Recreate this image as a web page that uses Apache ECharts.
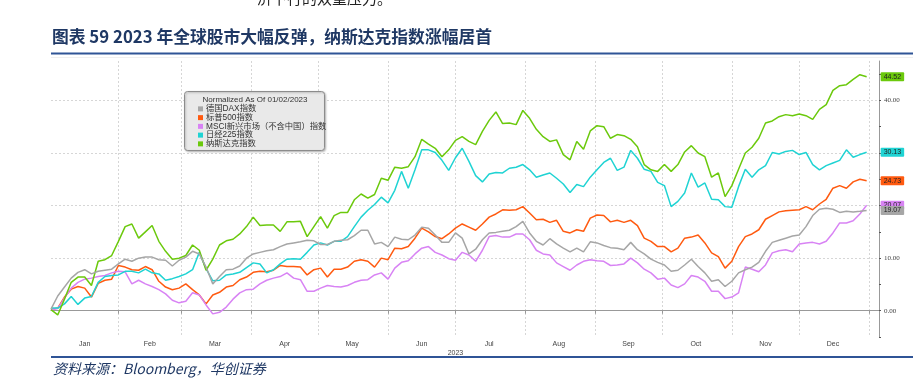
<!DOCTYPE html>
<html><head><meta charset="utf-8">
<script src="https://cdn.jsdelivr.net/npm/echarts@6/dist/echarts.min.js"></script>
<style>html,body{margin:0;padding:0;background:#fff}#c{width:913px;height:384px}</style>
</head><body><div id="c"></div>
<script>
// days since 2023-01-01
const days = [1,4,7,10,13,16,19,22,25,28,
31,34,37,40,43,46,49,52,55,58,
61,64,67,70,73,76,79,82,85,88,
91,94,97,100,103,106,109,112,115,118,
121,124,127,130,133,136,139,142,145,148,
151,154,157,160,163,166,169,172,175,178,
181,184,187,190,193,196,199,202,205,208,
211,214,217,220,223,226,229,232,235,238,
241,244,247,250,253,256,259,262,265,268,
271,274,277,280,283,286,289,292,295,298,
301,304,307,310,313,316,319,322,325,328,
331,334,337,340,343,346,349,352,355,358,
361,364];
const dax = [0.3,2.8,4.5,6.2,7.3,7.8,7.0,7.5,7.7,7.9,
8.9,9.8,9.4,10.0,10.2,10.2,9.7,9.6,8.5,9.6,
10.2,11.3,10.8,8.3,5.1,6.5,7.8,7.9,8.5,10.0,
10.8,11.1,11.4,11.6,12.2,12.7,12.9,13.1,13.4,13.3,
12.6,12.6,13.2,13.4,13.5,14.3,15.3,15.3,12.7,13.0,
12.2,14.0,13.6,13.5,14.4,15.9,15.7,14.4,13.0,13.0,
14.8,13.8,10.8,11.7,13.5,14.8,14.9,15.1,15.3,16.0,
17.0,14.8,13.2,12.5,13.7,12.7,11.9,11.2,11.9,11.2,
13.1,12.9,12.4,12.0,11.9,11.6,13.0,11.6,10.8,9.8,
9.2,8.7,7.5,7.7,8.7,9.8,8.4,7.2,5.6,5.9,
4.6,5.6,7.2,7.8,8.3,9.2,11.3,13.0,13.4,13.8,
14.2,14.4,16.0,18.1,19.3,19.5,19.3,18.7,18.9,18.8,
18.9,19.07];
const spx = [0.2,0.5,2.6,4.1,4.6,4.3,2.6,5.2,5.8,6.0,
8.6,8.3,7.8,7.7,8.4,7.8,5.6,4.5,4.0,4.3,
5.1,4.0,3.0,1.3,3.0,3.5,4.5,4.8,5.9,6.4,
7.3,7.5,7.4,7.7,8.6,8.4,8.4,8.3,6.8,7.8,
8.1,6.4,7.9,7.9,8.3,9.4,9.7,9.4,8.3,10.0,
9.7,11.9,11.8,12.2,13.8,15.7,15.0,14.1,13.7,14.6,
15.7,16.5,15.9,15.3,16.5,17.8,18.4,19.2,19.1,19.2,
19.8,18.6,17.3,17.4,16.8,17.2,15.1,14.8,15.4,15.1,
17.6,18.2,18.1,16.9,17.2,16.8,17.2,16.2,13.8,13.2,
12.2,12.2,11.2,11.9,13.8,14.0,14.4,12.9,11.0,10.3,
8.1,9.4,12.2,14.1,14.6,15.4,17.4,18.1,18.8,19.0,
19.1,19.2,19.8,19.2,20.3,21.2,23.3,23.8,23.3,24.5,
25.0,24.73];
const msci = [0.2,0.4,2.4,4.3,5.4,6.0,6.2,6.5,6.7,7.2,
7.5,7.4,5.1,5.8,5.1,4.6,4.0,3.2,2.0,1.5,
1.8,3.4,3.0,1.1,-0.6,-0.3,0.7,2.2,3.4,4.0,
4.1,5.1,5.8,6.2,6.5,7.2,6.2,5.9,3.7,3.7,
4.3,4.8,4.6,4.5,4.8,5.4,5.8,5.9,6.8,7.2,
6.0,8.1,9.2,9.5,10.8,11.9,12.2,11.1,10.6,9.9,
9.6,11.1,10.6,9.4,11.5,14.1,14.3,14.0,14.0,14.6,
14.6,13.5,11.5,10.8,10.6,9.1,8.4,7.7,8.7,9.4,
9.7,9.5,9.4,8.6,8.7,8.9,10.0,9.1,7.9,7.2,
6.0,6.2,4.9,4.4,5.1,6.7,6.4,5.6,3.7,3.7,
2.3,2.6,3.4,8.3,7.9,7.4,8.7,11.0,11.4,11.6,
11.2,12.7,12.9,13.0,12.7,13.2,14.8,16.7,16.7,17.1,
18.4,20.07];
const nikkei = [0.5,0.5,1.3,2.7,1.2,2.4,2.7,5.4,6.5,6.7,
6.8,7.5,7.5,7.2,7.9,7.2,7.0,5.8,6.1,6.5,
7.0,7.8,11.1,8.0,5.7,5.8,6.8,7.0,7.3,8.2,
9.1,8.9,7.2,7.8,8.9,9.8,9.9,9.8,11.1,12.5,
12.9,12.5,13.2,13.2,14.1,16.0,17.8,19.1,20.2,21.6,
20.5,22.9,26.5,23.3,26.8,30.6,30.6,30.1,28.6,26.7,
29.1,30.9,28.4,25.7,24.5,26.0,26.3,26.2,27.1,27.3,
27.8,26.8,25.4,25.8,26.2,25.2,24.1,22.5,24.0,23.6,
25.4,26.8,28.2,29.0,26.7,27.3,30.5,29.0,26.9,26.5,
24.4,23.8,19.8,20.8,22.4,26.2,23.5,24.3,21.2,21.1,
19.8,19.7,23.6,26.9,25.4,26.8,27.6,30.1,29.8,30.3,
30.5,29.7,30.1,27.8,26.8,27.6,28.1,28.6,30.6,29.2,
29.7,30.13];
const nasdaq = [0.2,-0.8,2.2,5.4,6.4,6.4,4.8,9.4,9.7,10.5,
13.2,16.0,16.5,13.8,15.0,16.2,13.2,11.3,9.8,10.0,
10.5,12.5,11.5,7.7,9.8,12.5,13.3,13.6,14.6,16.0,
17.8,16.2,16.3,16.3,15.1,16.9,16.9,17.0,14.1,16.0,
17.9,15.7,18.1,18.7,18.7,21.1,22.2,21.4,22.1,25.2,
24.8,27.3,27.1,27.4,29.3,32.6,31.7,30.9,29.3,30.6,
32.4,33.1,32.2,31.6,34.1,36.2,37.8,35.6,35.7,35.4,
38.1,36.6,34.5,33.1,32.2,32.5,29.7,28.7,32.2,30.7,
34.2,35.2,35.0,32.8,33.5,33.3,32.6,31.2,27.8,26.8,
26.5,27.8,26.5,27.8,30.2,31.4,30.0,29.3,25.4,26.2,
21.7,23.8,26.9,30.0,31.1,32.8,35.7,36.1,36.9,37.3,
37.1,37.4,37.1,36.4,38.3,39.2,41.9,42.8,43.0,44.0,
44.9,44.52];

const seriesNames = ['德国DAX指数','标普500指数','MSCI新兴市场（不含中国）指数','日经225指数','纳斯达克指数'];
const seriesValues = [dax, spx, msci, nikkei, nasdaq];
const seriesColors = ['#a6a6a6','#ff5a10','#d883f4','#1fd3d3','#6bc90c'];
const monthLabels = ['Jan','Feb','Mar','Apr','May','Jun','Jul','Aug','Sep','Oct','Nov','Dec'];
const monthLabelDays = [16,45,74,105,135,166,196,227,258,288,319,349];
const monthStartDays = [31,59,90,120,151,181,212,243,273,304,334,365];
const yearLabel = '2023';
const yearLabelDay = 181;
const yTickValues = [-5,0,5,10,15,20,25,30,35,40,45];
const yLabelValues = [0,10,20,30,40];

const chart = echarts.init(document.getElementById('c'));
const FONT = '"Liberation Sans", "Noto Sans CJK SC", sans-serif';

const series = seriesNames.map((name, i) => ({
  name, type: 'line', showSymbol: false, symbol: 'none',
  data: days.map((d, j) => [d, seriesValues[i][j]]),
  color: seriesColors[i],
  lineStyle: { width: 1.5, color: seriesColors[i] },
  z: i === 0 ? 7 : 2 + i,
  endLabel: {
    show: true, distance: 14,
    formatter: p => p.value[1].toFixed(2),
    backgroundColor: seriesColors[i], color: '#222',
    fontSize: 7, fontFamily: FONT, padding: [1, 3, 1, 3], borderRadius: 1
  }
}));

chart.setOption({
  animation: false,
  backgroundColor: '#fff',
  grid: { left: 51, right: 34, top: 61, bottom: 47, containLabel: false },
  xAxis: [{
    type: 'value', min: 1, max: 369.5,
    axisLine: { show: true, lineStyle: { color: '#999', width: 1 } },
    axisTick: { show: true, length: 3, customValues: monthStartDays, lineStyle: { color: '#999' } },
    axisLabel: { show: true, customValues: monthLabelDays, fontSize: 7, color: '#444', fontFamily: FONT, margin: 4,
      formatter: v => monthLabels[monthLabelDays.indexOf(v)] },
    splitLine: { show: true, lineStyle: { type: [2, 2], color: '#d6d6d6', width: 1 } }
  }, {
    type: 'value', min: 1, max: 369.5, position: 'bottom',
    axisLine: { show: false }, axisTick: { show: false }, splitLine: { show: false },
    axisLabel: { show: true, customValues: [yearLabelDay], fontSize: 7, color: '#444', fontFamily: FONT, margin: 13,
      formatter: () => yearLabel }
  }],
  yAxis: [{
    type: 'value', min: -5, max: 47.5, position: 'right',
    axisLine: { show: true, lineStyle: { color: '#999' } },
    axisTick: { show: true, inside: false, length: 2, customValues: yTickValues, lineStyle: { color: '#555' } },
    axisLabel: { show: true, customValues: yLabelValues, fontSize: 7, color: '#444', fontFamily: '"Liberation Serif", serif', margin: 5,
      formatter: v => v.toFixed(2) },
    splitLine: { show: false }
  }, {
    type: 'value', min: -5, max: 47.5, position: 'left',
    axisLine: { show: false }, axisLabel: { show: false },
    axisTick: { show: false, customValues: yLabelValues },
    splitLine: { show: true, lineStyle: { type: [2, 2], color: '#d6d6d6', width: 1 } }
  }],
  legend: {
    orient: 'vertical', left: 198, top: 104.5, padding: 0, itemGap: 0,
    itemWidth: 5, itemHeight: 5, icon: 'rect', selectedMode: false,
    textStyle: { fontSize: 8.3, color: '#333', fontFamily: FONT, lineHeight: 8.75, padding: [0, 0, 0, -2] },
    data: seriesNames
  },
  graphic: [
    { type: 'text', left: 257, top: -9, style: { text: '济下行的双重压力。', font: '15px "Noto Sans CJK SC"', fill: '#222' } },
    { type: 'text', left: 52, top: 28.5, style: { text: '图表 59 2023 年全球股市大幅反弹，纳斯达克指数涨幅居首', font: 'bold 16.8px "Noto Sans CJK SC"', fill: '#1f3864' } },
    { type: 'rect', shape: { x: 51, y: 52.5, width: 862, height: 2 }, style: { fill: '#2f5496' } },
    { type: 'rect', shape: { x: 51, y: 57, width: 862, height: 0.6 }, style: { fill: '#e2e2e2' } },
    { type: 'rect', shape: { x: 51, y: 356, width: 862, height: 2 }, style: { fill: '#2f5496' } },
    { type: 'text', left: 53, top: 362, style: { text: '资料来源：Bloomberg，华创证券', font: 'italic 14px "Noto Sans CJK SC"', fill: '#1f3864' } },
    { type: 'rect', z: 3, shape: { x: 184.5, y: 91.5, width: 140, height: 59, r: 3 }, style: { fill: '#e9e9e9', stroke: '#8c8c8c', lineWidth: 1, shadowBlur: 2, shadowColor: 'rgba(0,0,0,0.25)', shadowOffsetX: 1, shadowOffsetY: 1 } },
    { type: 'text', z: 4, x: 255, y: 100, style: { text: 'Normalized As Of 01/02/2023', font: '8px "Liberation Sans"', fill: '#333', align: 'center', verticalAlign: 'middle' } }
  ],
  series
});
</script></body></html>
